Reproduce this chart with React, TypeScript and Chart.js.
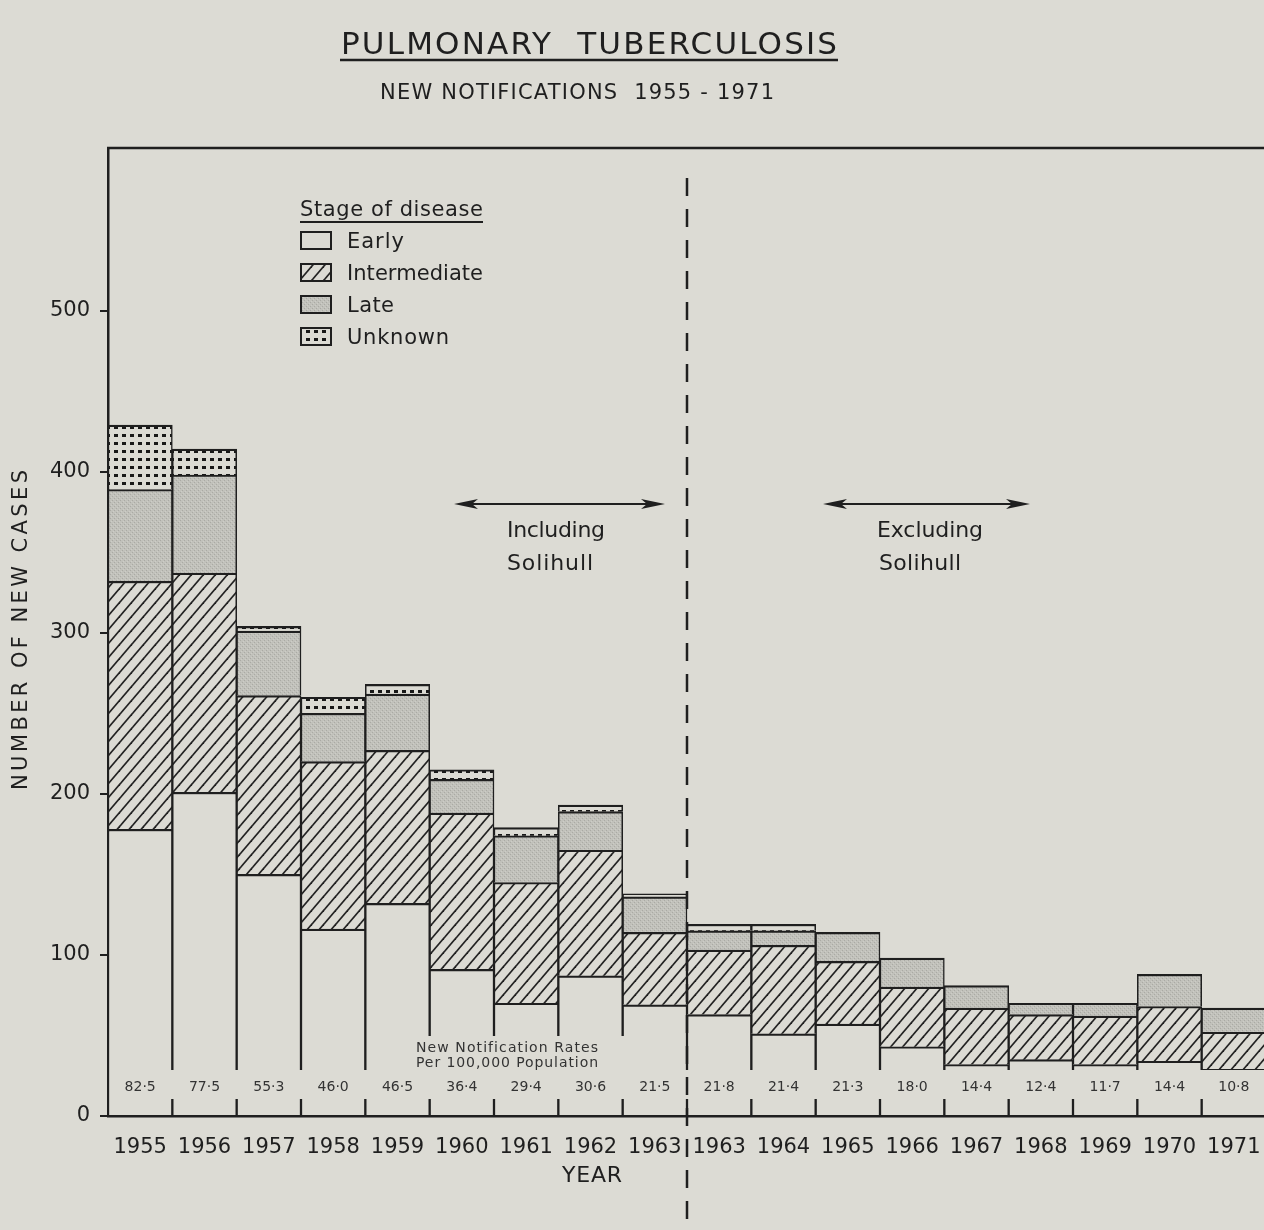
import React, { useEffect, useRef } from 'react';
import { Chart, registerables } from 'chart.js';

Chart.register(...registerables);

// ---------- data ----------
const YEARS = ['1955', '1956', '1957', '1958', '1959', '1960', '1961', '1962', '1963', '1963', '1964', '1965', '1966', '1967', '1968', '1969', '1970', '1971'];
const EARLY = [178, 201, 150, 116, 132, 91, 70, 87, 69, 63, 51, 57, 43, 32, 35, 32, 34, 29];
const INTERMEDIATE = [154, 136, 111, 104, 95, 97, 75, 78, 45, 40, 55, 39, 37, 35, 28, 30, 34, 23];
const LATE = [57, 61, 40, 30, 35, 21, 29, 24, 22, 12, 9, 18, 18, 14, 7, 8, 20, 15];
const UNKNOWN = [40, 16, 3, 10, 6, 6, 5, 4, 2, 4, 4, 0, 0, 0, 0, 0, 0, 0];
const RATES = ['82·5', '77·5', '55·3', '46·0', '46·5', '36·4', '29·4', '30·6', '21·5', '21·8', '21·4', '21·3', '18·0', '14·4', '12·4', '11·7', '14·4', '10·8'];
const Y_TICKS = [0, 100, 200, 300, 400, 500];
const STAGES = ['Early', 'Intermediate', 'Late', 'Unknown'];

// ---------- look ----------
const PAPER = '#dcdbd4';
const INK = '#1f1f1f';
const FONT = '"DejaVu Sans", "Liberation Sans", sans-serif';
const W = 1300;
const H = 1230;

function makeHatch(): CanvasPattern {
  const c = document.createElement('canvas');
  const w = 12, h = 14;
  c.width = w; c.height = h;
  const g = c.getContext('2d')!;
  g.fillStyle = PAPER; g.fillRect(0, 0, w, h);
  g.strokeStyle = '#222222'; g.lineWidth = 1.7;
  for (let k = -1; k <= 1; k++) {
    g.beginPath();
    g.moveTo(k * w - w, 2 * h);
    g.lineTo(k * w + 2 * w, -h);
    g.stroke();
  }
  return g.createPattern(c, 'repeat')!;
}

function makeStipple(): CanvasPattern {
  const c = document.createElement('canvas');
  c.width = 4; c.height = 4;
  const g = c.getContext('2d')!;
  g.fillStyle = '#c1c1bb'; g.fillRect(0, 0, 4, 4);
  g.fillStyle = '#aaaaa4';
  g.fillRect(0, 0, 1, 1); g.fillRect(2, 2, 1, 1);
  g.fillStyle = '#cdcdc7';
  g.fillRect(1, 3, 1, 1); g.fillRect(3, 1, 1, 1);
  return g.createPattern(c, 'repeat')!;
}

function makeDots(): CanvasPattern {
  const c = document.createElement('canvas');
  c.width = 8; c.height = 8;
  const g = c.getContext('2d')!;
  g.fillStyle = PAPER; g.fillRect(0, 0, 8, 8);
  g.fillStyle = '#181818';
  g.fillRect(2, 2, 4, 3);
  return g.createPattern(c, 'repeat')!;
}

function fitText(ctx: CanvasRenderingContext2D, text: string, x: number, y: number, width: number, align: 'left' | 'center' = 'left') {
  (ctx as any).letterSpacing = '0px';
  const w0 = ctx.measureText(text).width;
  const n = Array.from(text).length;
  let ls = n > 1 ? (width - w0) / (n - 1) : 0;
  ls = Math.max(-1.5, Math.min(8, ls));
  (ctx as any).letterSpacing = ls + 'px';
  const total = w0 + ls * (n - 1);
  const sx = align === 'center' ? x - total / 2 : x;
  ctx.textAlign = 'left';
  ctx.fillText(text, sx, y);
  (ctx as any).letterSpacing = '0px';
}

function arrow(ctx: CanvasRenderingContext2D, x1: number, x2: number, y: number) {
  ctx.strokeStyle = INK; ctx.fillStyle = INK; ctx.lineWidth = 2;
  ctx.beginPath(); ctx.moveTo(x1 + 8, y); ctx.lineTo(x2 - 8, y); ctx.stroke();
  ctx.beginPath();
  ctx.moveTo(x1, y); ctx.lineTo(x1 + 24, y - 5); ctx.lineTo(x1 + 18, y); ctx.lineTo(x1 + 24, y + 5); ctx.closePath(); ctx.fill();
  ctx.beginPath();
  ctx.moveTo(x2, y); ctx.lineTo(x2 - 24, y - 5); ctx.lineTo(x2 - 18, y); ctx.lineTo(x2 - 24, y + 5); ctx.closePath(); ctx.fill();
}

export default function App() {
  const ref = useRef<HTMLCanvasElement>(null);

  useEffect(() => {
    const canvas = ref.current!;
    const hatch = makeHatch();
    const stipple = makeStipple();
    const dots = makeDots();
    const fills: (string | CanvasPattern)[] = [PAPER, hatch, stipple, dots];
    const series = [EARLY, INTERMEDIATE, LATE, UNKNOWN];

    const decor = {
      id: 'decor',
      afterDatasetsDraw(chart: any) {
        const { ctx, chartArea: ca } = chart;
        const x = chart.scales.x;
        ctx.save();
        // gaps for the rate labels and the note
        ctx.fillStyle = PAPER;
        ctx.fillRect(ca.left + 2, 1070, ca.right - ca.left, 29);
        ctx.fillRect(404, 1036, 226, 36);
        // rates
        ctx.fillStyle = '#333333';
        ctx.font = `14px ${FONT}`;
        ctx.textAlign = 'center';
        ctx.textBaseline = 'middle';
        RATES.forEach((r, i) => ctx.fillText(r, x.getPixelForValue(i), 1087));
        ctx.font = `14px ${FONT}`;
        ctx.textBaseline = 'alphabetic';
        fitText(ctx, 'New Notification Rates', 416, 1052, 182);
        fitText(ctx, 'Per 100,000 Population', 416, 1067, 182);
        // dashed divider
        const dx = (x.getPixelForValue(8) + x.getPixelForValue(9)) / 2;
        ctx.strokeStyle = INK;
        ctx.lineWidth = 2.5;
        ctx.setLineDash([18, 13]);
        ctx.beginPath();
        ctx.moveTo(dx, ca.top + 30);
        ctx.lineTo(dx, chart.height);
        ctx.stroke();
        ctx.setLineDash([]);
        ctx.restore();
      },
      afterDraw(chart: any) {
        const { ctx, chartArea: ca } = chart;
        ctx.save();
        ctx.fillStyle = INK;
        ctx.strokeStyle = INK;
        ctx.textBaseline = 'alphabetic';
        // frame top
        ctx.lineWidth = 2.5;
        ctx.beginPath(); ctx.moveTo(ca.left - 1, ca.top); ctx.lineTo(chart.width, ca.top); ctx.stroke();
        // title
        ctx.font = `31px ${FONT}`;
        fitText(ctx, 'PULMONARY  TUBERCULOSIS', 341, 54, 496);
        ctx.lineWidth = 2.5;
        ctx.beginPath(); ctx.moveTo(340, 60); ctx.lineTo(838, 60); ctx.stroke();
        ctx.font = `21px ${FONT}`;
        fitText(ctx, 'NEW NOTIFICATIONS  1955 - 1971', 380, 99, 394);
        // legend
        ctx.font = `21px ${FONT}`;
        fitText(ctx, 'Stage of disease', 300, 216, 183);
        ctx.lineWidth = 2;
        ctx.beginPath(); ctx.moveTo(300, 222); ctx.lineTo(483, 222); ctx.stroke();
        const widths = [57, 136, 47, 102];
        STAGES.forEach((s, i) => {
          const cy = 240 + i * 32;
          ctx.fillStyle = fills[i] as any;
          ctx.fillRect(301, cy - 8, 30, 17);
          ctx.lineWidth = 2;
          ctx.strokeStyle = INK;
          ctx.strokeRect(301, cy - 8, 30, 17);
          ctx.fillStyle = INK;
          fitText(ctx, s, 347, cy + 8, widths[i]);
        });
        // arrows and notes
        arrow(ctx, 454, 665, 504);
        arrow(ctx, 823, 1030, 504);
        ctx.fillStyle = INK;
        ctx.font = `22px ${FONT}`;
        fitText(ctx, 'Including', 507, 537, 98);
        fitText(ctx, 'Solihull', 507, 570, 86);
        fitText(ctx, 'Excluding', 877, 537, 106);
        fitText(ctx, 'Solihull', 879, 570, 82);
        // axis titles
        ctx.font = `21px ${FONT}`;
        ctx.save();
        ctx.translate(27, 630);
        ctx.rotate(-Math.PI / 2);
        fitText(ctx, 'NUMBER OF NEW CASES', 0, 0, 320, 'center');
        ctx.restore();
        ctx.font = `22px ${FONT}`;
        fitText(ctx, 'YEAR', 592, 1182, 60, 'center');
        ctx.restore();
      },
    };

    const chart = new Chart(canvas, {
      type: 'bar',
      data: {
        labels: YEARS,
        datasets: STAGES.map((s, i) => ({
          label: s,
          data: series[i],
          backgroundColor: fills[i] as any,
          borderColor: INK,
          borderWidth: { top: 2.2, left: 1.5, right: 1.5, bottom: 0 },
          borderSkipped: 'start' as const,
          barPercentage: 1,
          categoryPercentage: 1,
        })),
      },
      options: {
        responsive: false,
        maintainAspectRatio: false,
        animation: false,
        devicePixelRatio: 1,
        layout: { padding: { top: 148, left: 0, right: W - 1266, bottom: 0 } },
        plugins: {
          legend: { display: false },
          title: { display: false },
          tooltip: { enabled: false },
        },
        scales: {
          x: {
            stacked: true,
            offset: true,
            grid: { display: false },
            border: { display: true, color: INK, width: 2.5 },
            ticks: { color: INK, font: { family: FONT, size: 21 }, padding: 11, autoSkip: false, maxRotation: 0 },
            afterFit: (s: any) => { s.height = H - 1116; },
          },
          y: {
            stacked: true,
            min: 0,
            max: 601,
            grid: { display: true, drawOnChartArea: false, drawTicks: true, tickLength: 8, color: INK, lineWidth: 2 },
            border: { display: true, color: INK, width: 2.5 },
            ticks: { color: INK, font: { family: FONT, size: 21 }, padding: 10 },
            afterBuildTicks: (s: any) => { s.ticks = Y_TICKS.map((v) => ({ value: v })); },
            afterFit: (s: any) => { s.width = 108; },
          },
        },
      },
      plugins: [decor],
    });
    return () => chart.destroy();
  }, []);

  return (
    <div style={{ position: 'fixed', left: 0, top: 0, width: 1264, height: 1230, overflow: 'hidden', background: PAPER }}>
      <canvas ref={ref} width={W} height={H} style={{ display: 'block', width: W, height: H }} />
    </div>
  );
}
